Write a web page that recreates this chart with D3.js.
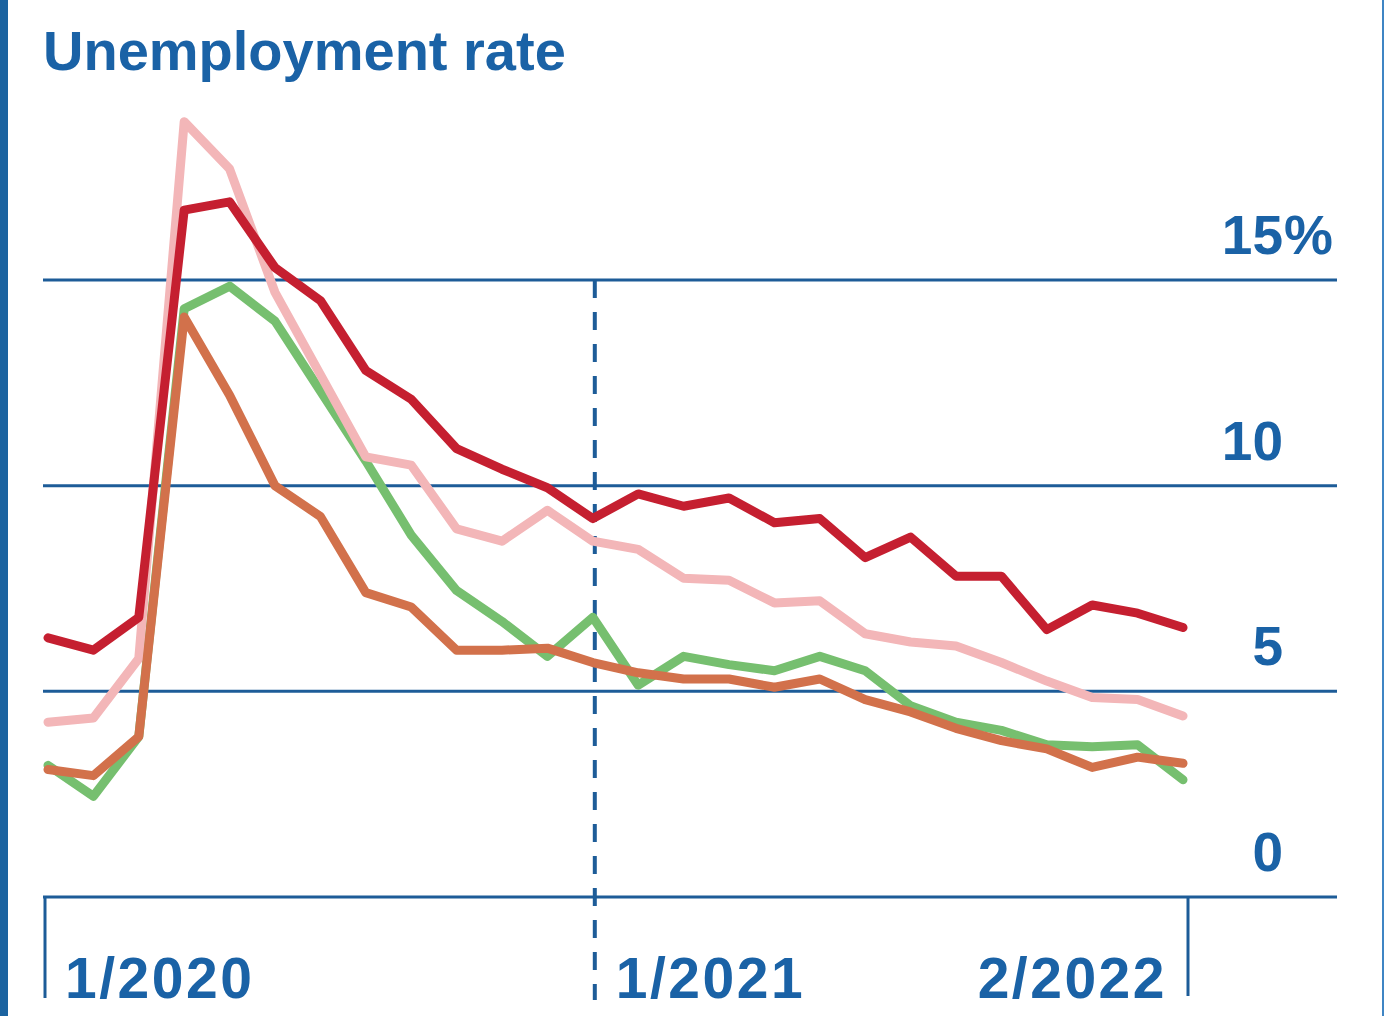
<!DOCTYPE html>
<html>
<head>
<meta charset="utf-8">
<script src="https://cdn.jsdelivr.net/npm/d3@7"></script>
<style>
  html, body { margin: 0; padding: 0; background: #fff; }
  svg { display: block; }
  text { font-family: "Liberation Sans", Arial, sans-serif; font-weight: bold; fill: #1a62a6; }
</style>
</head>
<body>
<div id="chart"></div>
<script>
const months = [
  "1/2020", "2/2020", "3/2020", "4/2020", "5/2020", "6/2020", "7/2020", "8/2020",
  "9/2020", "10/2020", "11/2020", "12/2020", "1/2021", "2/2021", "3/2021", "4/2021",
  "5/2021", "6/2021", "7/2021", "8/2021", "9/2021", "10/2021", "11/2021", "12/2021",
  "1/2022", "2/2022"
];

const redSeries = [6.3, 6.0, 6.8, 16.7, 16.9, 15.3, 14.5, 12.8, 12.1, 10.9, 10.4, 9.95, 9.2,
  9.8, 9.5, 9.7, 9.1, 9.2, 8.25, 8.75, 7.8, 7.8, 6.5, 7.1, 6.9, 6.55];
const pinkSeries = [4.25, 4.35, 5.8, 18.85, 17.7, 14.7, 12.7, 10.7, 10.5, 8.95, 8.65, 9.4, 8.65,
  8.45, 7.75, 7.7, 7.15, 7.2, 6.4, 6.2, 6.1, 5.7, 5.25, 4.85, 4.8, 4.4];
const greenSeries = [3.2, 2.45, 3.9, 14.3, 14.85, 14.0, 12.3, 10.6, 8.8, 7.45, 6.7, 5.85, 6.8,
  5.15, 5.85, 5.65, 5.5, 5.85, 5.5, 4.65, 4.25, 4.05, 3.7, 3.65, 3.7, 2.85];
const orangeSeries = [3.1, 2.95, 3.9, 14.1, 12.2, 10.0, 9.25, 7.4, 7.05, 6.0, 6.0, 6.05, 5.7,
  5.45, 5.3, 5.3, 5.1, 5.3, 4.8, 4.5, 4.1, 3.8, 3.6, 3.15, 3.4, 3.25];

const yTicks = [0, 5, 10, 15];
const xTickLabels = ["1/2020", "1/2021", "2/2022"];

// drawing order: back to front
const series = [
  { values: greenSeries, colour: "#76bf6f" },
  { values: pinkSeries, colour: "#f3b6b8" },
  { values: orangeSeries, colour: "#d2714b" },
  { values: redSeries, colour: "#c51f30" }
];

const w = 1387;
const h = 1016;
const axisBlue = "#1d5c98";

const svg = d3.select("#chart").append("svg").attr("width", w).attr("height", h);

const xScale = d3.scalePoint().domain(months).range([48, 1183]);
const yScale = d3.scaleLinear().domain([0, 15]).range([897, 280]);

// frame
svg.append("rect").attr("x", 0).attr("y", 0).attr("width", 8).attr("height", h).style("fill", "#1b63a0");
svg.append("line")
  .attr("x1", 1383).attr("x2", 1383).attr("y1", 0).attr("y2", h)
  .style("stroke", "#3f85c4").style("stroke-width", 2);

svg.append("text")
  .attr("x", 43).attr("y", 70)
  .style("font-size", "56px")
  .text("Unemployment rate");

// gridlines
svg.selectAll("line.grid")
  .data(yTicks)
  .enter()
  .append("line")
  .attr("class", "grid")
  .attr("x1", 43).attr("x2", 1337)
  .attr("y1", (d) => yScale(d)).attr("y2", (d) => yScale(d))
  .style("stroke", axisBlue).style("stroke-width", 3);

svg.selectAll("text.ylab")
  .data(yTicks)
  .enter()
  .append("text")
  .attr("class", "ylab")
  .attr("x", 1283)
  .attr("y", (d) => yScale(d) - 26)
  .attr("text-anchor", "end")
  .style("font-size", "55px")
  .text((d) => d);

svg.append("text")
  .attr("x", 1284).attr("y", yScale(15) - 26)
  .style("font-size", "55px")
  .text("%");

// end ticks
svg.append("line")
  .attr("x1", xScale(months[0]) - 3).attr("x2", xScale(months[0]) - 3)
  .attr("y1", yScale(0)).attr("y2", 998)
  .style("stroke", axisBlue).style("stroke-width", 3);
svg.append("line")
  .attr("x1", xScale(months[25]) + 5).attr("x2", xScale(months[25]) + 5)
  .attr("y1", yScale(0)).attr("y2", 996)
  .style("stroke", axisBlue).style("stroke-width", 3);

// dashed year divider
svg.append("line")
  .attr("x1", xScale("1/2021") + 2).attr("x2", xScale("1/2021") + 2)
  .attr("y1", yScale(15)).attr("y2", 1000)
  .style("stroke", axisBlue).style("stroke-width", 4)
  .style("stroke-dasharray", "18,14");

// x labels
svg.selectAll("text.xlab")
  .data(xTickLabels)
  .enter()
  .append("text")
  .attr("class", "xlab")
  .attr("x", (d, i) => (i === 2 ? xScale(d) - 16 : xScale(d) + 17 + (i === 1 ? 6 : 0)))
  .attr("y", 998)
  .attr("text-anchor", (d, i) => (i === 2 ? "end" : "start"))
  .style("font-size", "57px")
  .style("letter-spacing", "2.5px")
  .text((d) => d);

const line = d3.line()
  .x((d, i) => xScale(months[i]))
  .y((d) => yScale(d));

svg.selectAll("path.series")
  .data(series)
  .enter()
  .append("path")
  .attr("class", "series")
  .attr("d", (d) => line(d.values))
  .style("fill", "none")
  .style("stroke", (d) => d.colour)
  .style("stroke-width", 9)
  .style("stroke-linejoin", "round")
  .style("stroke-linecap", "round");
</script>
</body>
</html>
